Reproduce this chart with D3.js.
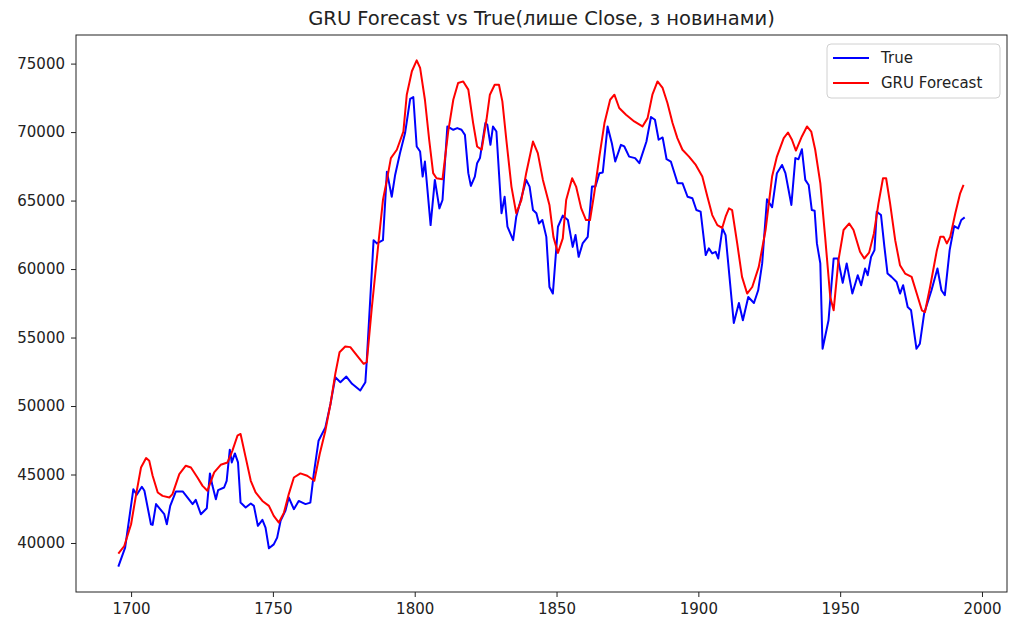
<!DOCTYPE html>
<html>
<head>
<meta charset="utf-8">
<script src="https://cdn.jsdelivr.net/npm/d3@7"></script>
<style>
  body { margin: 0; background: #fff; }
  svg text { font-family: "DejaVu Sans", sans-serif; fill: #222; }
</style>
</head>
<body>
<div class="chart"></div>
<script>
// values (time index, price)
var trueX = [1695.5, 1697.9, 1700.8, 1702, 1703.8, 1704.7, 1707, 1707.6, 1708.8, 1711.7, 1712.6, 1713.8, 1715.8, 1718.2,
  1721.7, 1722.8, 1724.6, 1726.7, 1727.8, 1728.7, 1729.9, 1730.7, 1732.8, 1733.7, 1734.8, 1735.5, 1736.6, 1737.7,
  1738.6, 1740.4, 1742.2, 1743.3, 1744.7, 1746.3, 1747.4, 1748.6, 1750.3, 1751.5, 1752.7, 1754.4, 1755.6, 1757.4,
  1759.1, 1761.5, 1763.2, 1764.4, 1766.1, 1768.5, 1770.3, 1772, 1773.8, 1775.9, 1777.9, 1780.8, 1782.6, 1783.1,
  1785.5, 1786.7, 1788.8, 1790.2, 1791.9, 1793.1, 1794.8, 1796.6, 1798.4, 1799.5, 1800.7, 1801.9, 1802.8, 1803.6,
  1805.6, 1807.1, 1808.7, 1809.8, 1811.5, 1813.6, 1815, 1816.5, 1817.7, 1818.9, 1819.8, 1821.2, 1822, 1823,
  1824.9, 1825.6, 1826.7, 1827.6, 1828.8, 1830.6, 1831.7, 1832.7, 1834.7, 1835.8, 1839.3, 1840.5, 1841.7, 1842.9,
  1843.8, 1845, 1846.4, 1847.5, 1848.7, 1850.5, 1852.2, 1854, 1855.7, 1856.7, 1857.8, 1859.2, 1861, 1862.5,
  1863.7, 1865.1, 1866.3, 1868, 1869.5, 1870.7, 1872.7, 1873.9, 1875.6, 1877.7, 1879.2, 1881.7, 1883.3, 1884.7,
  1886, 1887.4, 1888.8, 1890.3, 1892.7, 1894.4, 1896.2, 1897.9, 1899.3, 1900.8, 1902.6, 1903.7, 1904.9, 1906.1,
  1907, 1908.5, 1909.6, 1912.5, 1914.3, 1915.7, 1917.6, 1919.6, 1921.1, 1922.5, 1924.2, 1926, 1927.7, 1929.5,
  1930.7, 1932.8, 1934.2, 1935.3, 1936.5, 1937.7, 1938.9, 1940, 1941, 1941.8, 1943, 1943.8, 1945.9, 1947.7,
  1949.2, 1950.9, 1952.3, 1954.3, 1956.2, 1957.4, 1958.8, 1959.7, 1960.9, 1962.1, 1962.9, 1964.4, 1965.6, 1966.7,
  1968.1, 1969.9, 1971.1, 1972.2, 1973.8, 1975, 1976.9, 1978.1, 1979.6, 1982.2, 1984.3, 1985.7, 1986.9, 1988.6,
  1990.2, 1991.6, 1992.7, 1993.9];
var trueY = [38270, 39660, 43930, 43520, 44100, 43810, 41370, 41320, 42840, 42100, 41370, 42710, 43760, 43760,
  42840, 43150, 42100, 42540, 45080, 44170, 43200, 43860, 44050, 44540, 46810, 45880, 46540, 45880,
  42950, 42590, 42880, 42710, 41250, 41690, 41120, 39610, 39900, 40390, 41610, 42340, 43320, 42470,
  43070, 42840, 42950, 45030, 47470, 48440, 50150, 52100, 51740, 52150, 51620, 51130, 51740, 53330,
  62110, 61870, 62110, 67110, 65280, 66870, 68460, 69930, 72420, 72560, 68950, 68580, 66750, 67850,
  63210, 66510, 64430, 65040, 70410, 70170, 70290, 70170, 69800, 67000, 66070, 66750, 67730, 68100,
  70660, 70530, 69070, 70410, 70040, 64070, 65280, 63090, 62110, 63820, 66510, 66020, 64310, 64070,
  63330, 63580, 62350, 58690, 58210, 63090, 63900, 63580, 61620, 62480, 60890, 61870, 62350, 66020,
  66020, 67000, 67050, 70410, 69190, 67850, 69070, 68950, 68210, 68100, 67730, 69310, 71100, 70900,
  69440, 69610, 68020, 67850, 66270, 66270, 65280, 65170, 64310, 64190, 61020, 61510, 61140, 61260,
  60770, 62970, 62480, 56060, 57520, 56260, 57960, 57520, 58450, 60410, 65090, 64510, 67000, 67600,
  67000, 64680, 68100, 68020, 68750, 66510, 66140, 64310, 64260, 61870, 60410, 54180, 56260, 60770,
  60770, 58990, 60410, 58210, 59550, 58820, 60040, 59550, 60890, 61380, 64190, 63940, 61620, 59670,
  59430, 59060, 58210, 58820, 57230, 56990, 54180, 54550, 56750, 58450, 60040, 58450, 58090, 61380,
  63140, 62970, 63580, 63770];

var gruX = [1695.5, 1697.6, 1700, 1701.8, 1703.5, 1705.3, 1706.4, 1707.6, 1709.4, 1711.1, 1713.5, 1714.6, 1717, 1719.3,
  1721.1, 1723.4, 1725.2, 1726.9, 1729.3, 1731.6, 1734, 1735.7, 1737.5, 1738.6, 1740.4, 1742.2, 1743.9, 1746.3,
  1748.6, 1750.3, 1752.1, 1753.9, 1755.6, 1757.4, 1759.7, 1762.1, 1764.6, 1766.5, 1768.5, 1770.3, 1772, 1773.5,
  1775.5, 1777.3, 1779.6, 1782, 1783.1, 1784.9, 1786.1, 1787.2, 1788.8, 1790.2, 1791.6, 1793.7, 1796, 1797.2,
  1799, 1800.7, 1801.9, 1803.6, 1805.1, 1806.5, 1807.7, 1809.8, 1811.8, 1813.6, 1815.3, 1817.1, 1818.9, 1820.6,
  1822, 1823.6, 1825.3, 1826.5, 1828.2, 1829.7, 1830.9, 1832.3, 1834.1, 1835.8, 1837.6, 1839.3, 1841.7, 1843.4,
  1845.2, 1847.5, 1848.9, 1850.5, 1852.2, 1853.4, 1855.5, 1856.9, 1858.7, 1860.4, 1861.8, 1863.3, 1865.1, 1866.9,
  1868.9, 1870.4, 1872.1, 1874.5, 1877.4, 1880.3, 1882.1, 1883.8, 1885.6, 1887.4, 1889.1, 1890.9, 1892.6, 1894.4,
  1896.7, 1899.1, 1901.4, 1903.2, 1904.9, 1906.7, 1908.4, 1909.6, 1910.8, 1911.9, 1913.7, 1915.4, 1917.2, 1919,
  1921.3, 1923.7, 1926, 1927.7, 1930.1, 1931.6, 1933, 1934.4, 1936.5, 1938.3, 1939.8, 1941.2, 1943, 1944.7,
  1946.5, 1947.7, 1949.4, 1951.2, 1953.2, 1954.7, 1957, 1958.5, 1960.2, 1961.9, 1963.5, 1965.1, 1966.2, 1967.6,
  1969.4, 1971.1, 1972.9, 1975.2, 1977, 1978.8, 1979.9, 1981.7, 1984.1, 1985.3, 1986.5, 1987.6, 1988.8, 1990.6,
  1992.3, 1993.5];
var gruY = [39220, 39780, 41370, 43570, 45510, 46200, 46000, 44910, 43690, 43440, 43320, 43570, 45030, 45640,
  45510, 44780, 44170, 43810, 45150, 45710, 45880, 46730, 47830, 47960, 46250, 44540, 43690, 43070,
  42710, 41980, 41490, 42220, 43570, 44780, 45080, 44910, 44540, 46500, 48200, 50150, 52350, 53930,
  54350, 54300, 53690, 53080, 53200, 57230, 59670, 61870, 65040, 66510, 68100, 68710, 70040, 72730,
  74440, 75240, 74690, 72360, 69440, 67000, 66630, 66560, 70040, 72360, 73590, 73700, 73100, 70660,
  68950, 68710, 70900, 72730, 73460, 73460, 72240, 69440, 66020, 64070, 65040, 67000, 69310, 68460,
  66510, 64680, 62350, 61180, 62240, 65040, 66630, 66020, 64430, 63580, 63580, 65530, 68210, 70660,
  72360, 72730, 71760, 71270, 70780, 70410, 71020, 72730, 73700, 73220, 72120, 70660, 69560, 68710,
  68210, 67600, 66750, 65280, 63940, 63210, 63000, 63820, 64430, 64310, 61870, 59430, 58210, 58690,
  60160, 62850, 66750, 68210, 69560, 69970, 69440, 68650, 69680, 70410, 70040, 68710, 66270, 62350,
  57960, 56990, 60650, 62850, 63330, 62850, 61260, 60770, 61200, 62600, 64800, 66630, 66630, 64800,
  62110, 60280, 59670, 59430, 58210, 56990, 56860, 58690, 61380, 62350, 62350, 61870, 62350, 64070,
  65530, 66140];

var xTicks = [1700, 1750, 1800, 1850, 1900, 1950, 2000];
var yTicks = [40000, 45000, 50000, 55000, 60000, 65000, 70000, 75000];
var seriesNames = ["True", "GRU Forecast"];
var seriesColors = ["#0000ff", "#ff0000"];
var chartTitle = "GRU Forecast vs True(лише Close, з новинами)";

var svgWidth = 1011, svgHeight = 624;
var margin = {top: 35, right: 4, bottom: 32, left: 76};
var width = svgWidth - margin.left - margin.right,
    height = svgHeight - margin.top - margin.bottom;

var svg = d3.select(".chart").append("svg")
    .attr("width", svgWidth)
    .attr("height", svgHeight);

var g = svg.append("g")
    .attr("transform", "translate(" + margin.left + "," + margin.top + ")");

// matplotlib style 5% padding around the data
function padded(lo, hi) {
    var p = (hi - lo) * 0.05;
    return [lo - p, hi + p];
}
var allX = trueX.concat(gruX), allY = trueY.concat(gruY);

var x = d3.scaleLinear().domain(padded(d3.min(allX), d3.max(allX))).range([0, width]);
var y = d3.scaleLinear().domain(padded(d3.min(allY), d3.max(allY))).range([height, 0]);

var line = d3.line()
    .x(function(d) { return x(d[0]); })
    .y(function(d) { return y(d[1]); });

var series = [d3.zip(trueX, trueY), d3.zip(gruX, gruY)];

g.selectAll(".series")
    .data(series)
  .enter().append("path")
    .attr("class", "series")
    .attr("fill", "none")
    .attr("stroke", function(d, i) { return seriesColors[i]; })
    .attr("stroke-width", 2)
    .attr("stroke-linejoin", "round")
    .attr("d", line);

// axes
var xAxis = d3.axisBottom(x).tickValues(xTicks).tickFormat(d3.format("d")).tickSize(5).tickPadding(6);
var yAxis = d3.axisLeft(y).tickValues(yTicks).tickFormat(d3.format("d")).tickSize(5).tickPadding(6);

g.append("g")
    .attr("transform", "translate(0," + height + ")")
    .call(xAxis)
    .call(function(a) { a.select(".domain").remove(); })
    .selectAll("text").style("font-size", "15px").attr("fill", "#222");

g.append("g")
    .call(yAxis)
    .call(function(a) { a.select(".domain").remove(); })
    .selectAll("text").style("font-size", "15px").attr("fill", "#222");

g.selectAll(".tick line").attr("stroke", "#222");

g.append("rect")
    .attr("width", width)
    .attr("height", height)
    .attr("fill", "none")
    .attr("stroke", "#222")
    .attr("stroke-width", 1);

svg.append("text")
    .attr("x", margin.left + width / 2)
    .attr("y", 25)
    .attr("text-anchor", "middle")
    .style("font-size", "19.5px")
    .text(chartTitle);

// legend
var legend = g.append("g").attr("transform", "translate(" + (width - 180) + ",9)");
legend.append("rect")
    .attr("width", 173).attr("height", 54)
    .attr("rx", 4)
    .attr("fill", "#fff").attr("fill-opacity", 0.8)
    .attr("stroke", "#d0d0d0");

seriesNames.forEach(function(name, i) {
    var ly = 14 + i * 25;
    legend.append("line")
        .attr("x1", 6).attr("x2", 42)
        .attr("y1", ly).attr("y2", ly)
        .attr("stroke", seriesColors[i]).attr("stroke-width", 2);
    legend.append("text")
        .attr("x", 54).attr("y", ly + 5)
        .style("font-size", "15px")
        .text(name);
});
</script>
</body>
</html>
